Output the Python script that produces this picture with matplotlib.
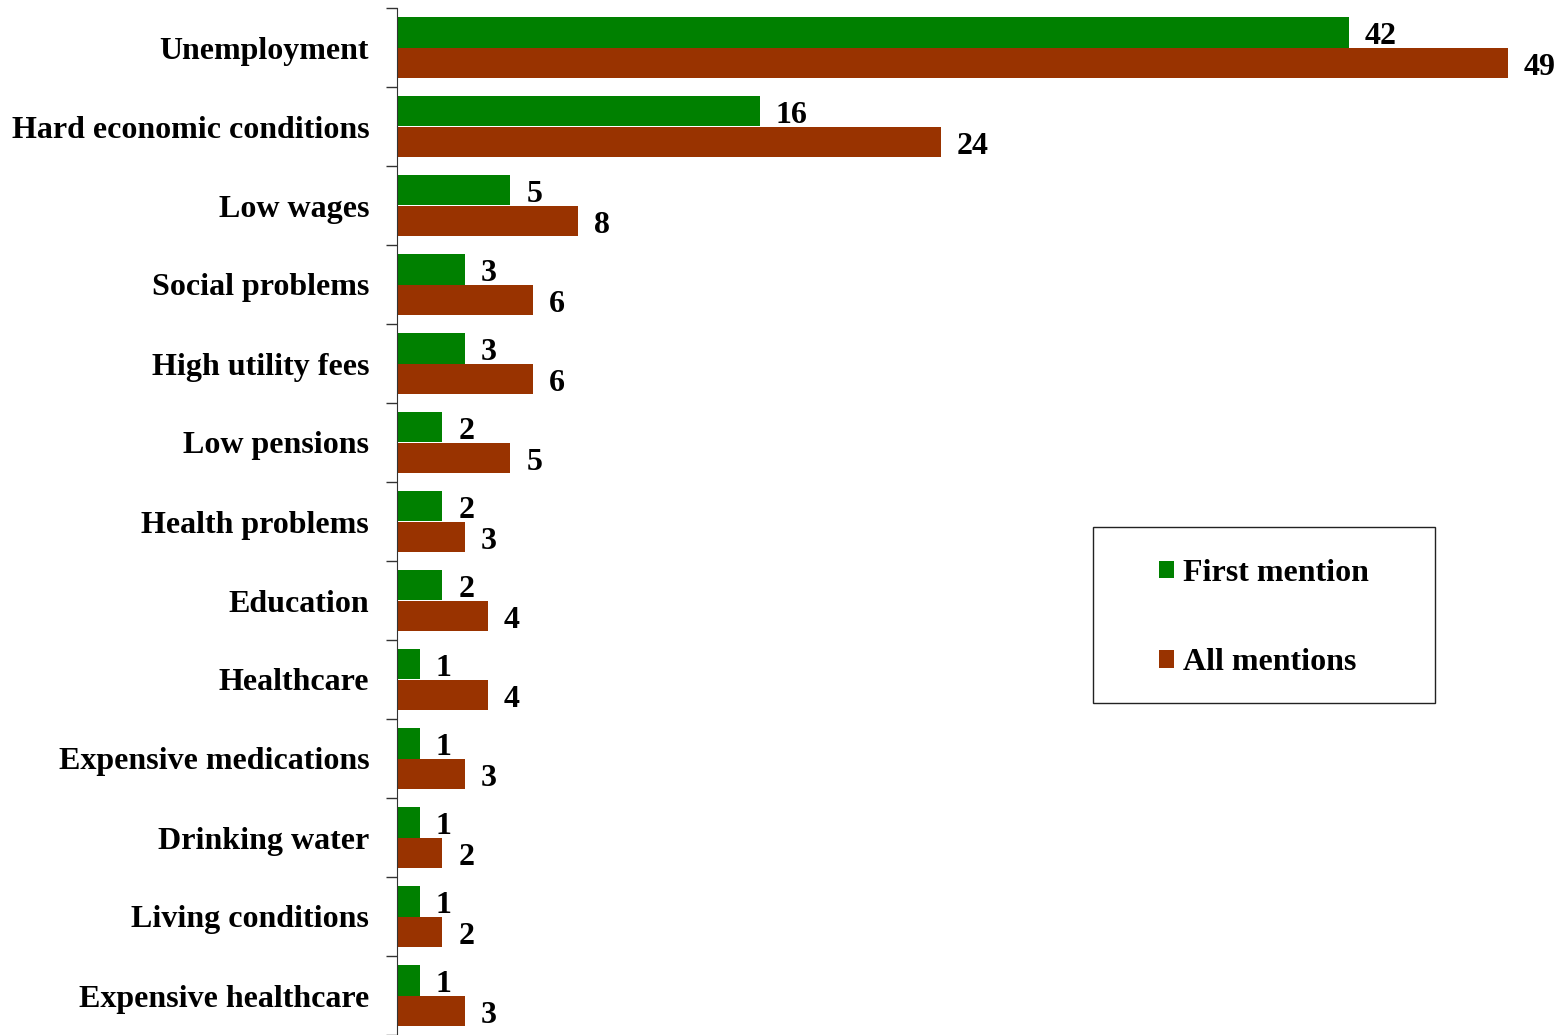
import numpy as np
import matplotlib.pyplot as plt
from matplotlib.patches import Rectangle

# data (percent)
categories = ["Unemployment", "Hard economic conditions", "Low wages", "Social problems",
              "High utility fees", "Low pensions", "Health problems", "Education",
              "Healthcare", "Expensive medications", "Drinking water",
              "Living conditions", "Expensive healthcare"]
first_mention = [42, 16, 5, 3, 3, 2, 2, 2, 1, 1, 1, 1, 1]
all_mentions = [49, 24, 8, 6, 6, 5, 3, 4, 4, 3, 2, 2, 3]

plt.rcParams['font.family'] = ['Liberation Serif', 'DejaVu Serif']
plt.rcParams['font.weight'] = 'bold'

green = "#008000"
brown = "#993300"
fs = 23

fig = plt.figure(figsize=(15.68, 10.35), dpi=100)
ax = fig.add_axes([397 / 1568, 0.0, 1 - 397 / 1568, 1 - 8 / 1035])

y = np.arange(len(categories))
h = 0.39
ax.barh(y - h / 2, first_mention, height=h, color=green, label="First mention")
ax.barh(y + h / 2, all_mentions, height=h, color=brown, label="All mentions")

for yi, v in zip(y, first_mention):
    ax.text(v + 0.7, yi - h / 2 + 0.05, str(v), va='center', ha='left', fontsize=fs, fontweight='bold')
for yi, v in zip(y, all_mentions):
    ax.text(v + 0.7, yi + h / 2 + 0.06, str(v), va='center', ha='left', fontsize=fs, fontweight='bold')

ax.set_xlim(0, 51.65)
ax.set_ylim(len(categories) - 0.5, -0.5)

# category labels between boundary ticks
ax.set_yticks(np.arange(len(categories) + 1) - 0.5)
ax.set_yticklabels([])
ax.tick_params(axis='y', which='major', length=8, width=1, color='#333333')
ax.set_yticks(y, minor=True)
ax.set_yticklabels(categories, minor=True, fontsize=fs, fontweight='bold')
ax.tick_params(axis='y', which='minor', length=0, pad=20)
ax.set_xticks([])

for s in ['top', 'right', 'bottom']:
    ax.spines[s].set_visible(False)
ax.spines['left'].set_color('#333333')

# legend in a drawn box
bx0 = (1093 - 397) / 1171
bx1 = (1435 - 397) / 1171
by1 = 1 - (527 - 8) / 1027
by0 = 1 - (703 - 8) / 1027
ax.add_patch(Rectangle((bx0, by0), bx1 - bx0, by1 - by0, transform=ax.transAxes,
                       fill=False, edgecolor='#222222', linewidth=1, clip_on=False))
ax.legend(loc='center', bbox_to_anchor=((bx0 + bx1) / 2, (by0 + by1) / 2 - 0.003),
          frameon=False, handlelength=0.47, handleheight=0.47,
          handletextpad=0.3, labelspacing=1.9, prop={'weight': 'bold', 'size': fs})

fig.savefig("out.png", dpi=100)
